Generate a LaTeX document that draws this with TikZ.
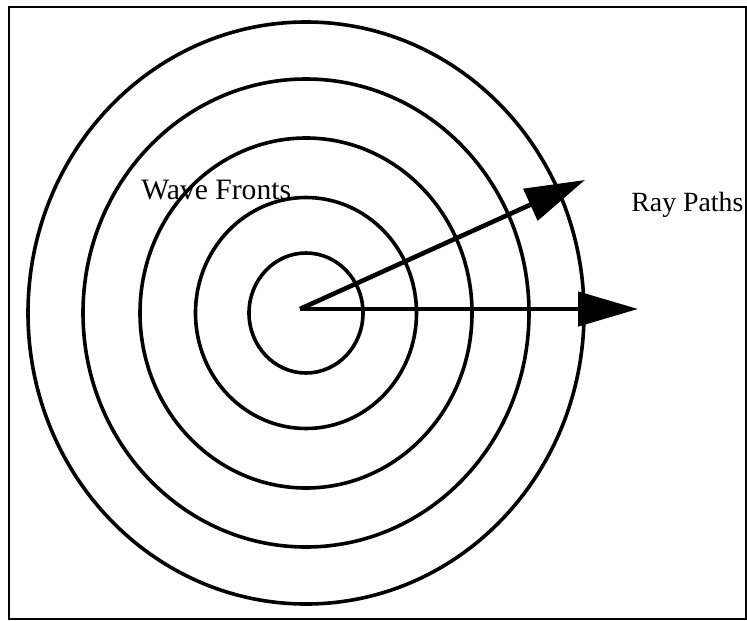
\documentclass[tikz,border=0pt]{standalone}
\usepackage{fontspec}
\setmainfont{Liberation Serif}
\usetikzlibrary{arrows.meta}

\begin{document}
\begin{tikzpicture}[
    x=0.5pt, y=-0.5pt,
    front/.style={line width=1.8pt},
    ray/.style={line width=2.3pt, -{Triangle[length=30pt, width=17pt]}},
    lbl/.style={anchor=base west, inner sep=0pt, font=\fontsize{14.8}{17}\selectfont}
]
\useasboundingbox (0,0) rectangle (747,620);
\clip (0,0) rectangle (747,620);

% Frame
\draw[line width=1pt] (8.5,7) rectangle (746,619);

% Wave fronts
\coordinate (src) at (306,313);
\foreach \rx/\ry in {57/60, 110.5/115.5, 166/175, 223/234, 278/291}
    \draw[front] (src) ellipse [x radius=\rx, y radius=\ry];

% Ray paths
\coordinate (start) at (300,309);
\coordinate (tipA) at (585,180);
\coordinate (tipB) at (638,309);
\draw[ray] (start) -- (tipA);
\draw[ray] (start) -- (tipB);

% Labels
\node[lbl] (wave) at (141,199) {Wave Fronts};
\node[lbl, font=\fontsize{13.9}{16}\selectfont] (rays) at (631,211) {Ray Paths};

\end{tikzpicture}
\end{document}
